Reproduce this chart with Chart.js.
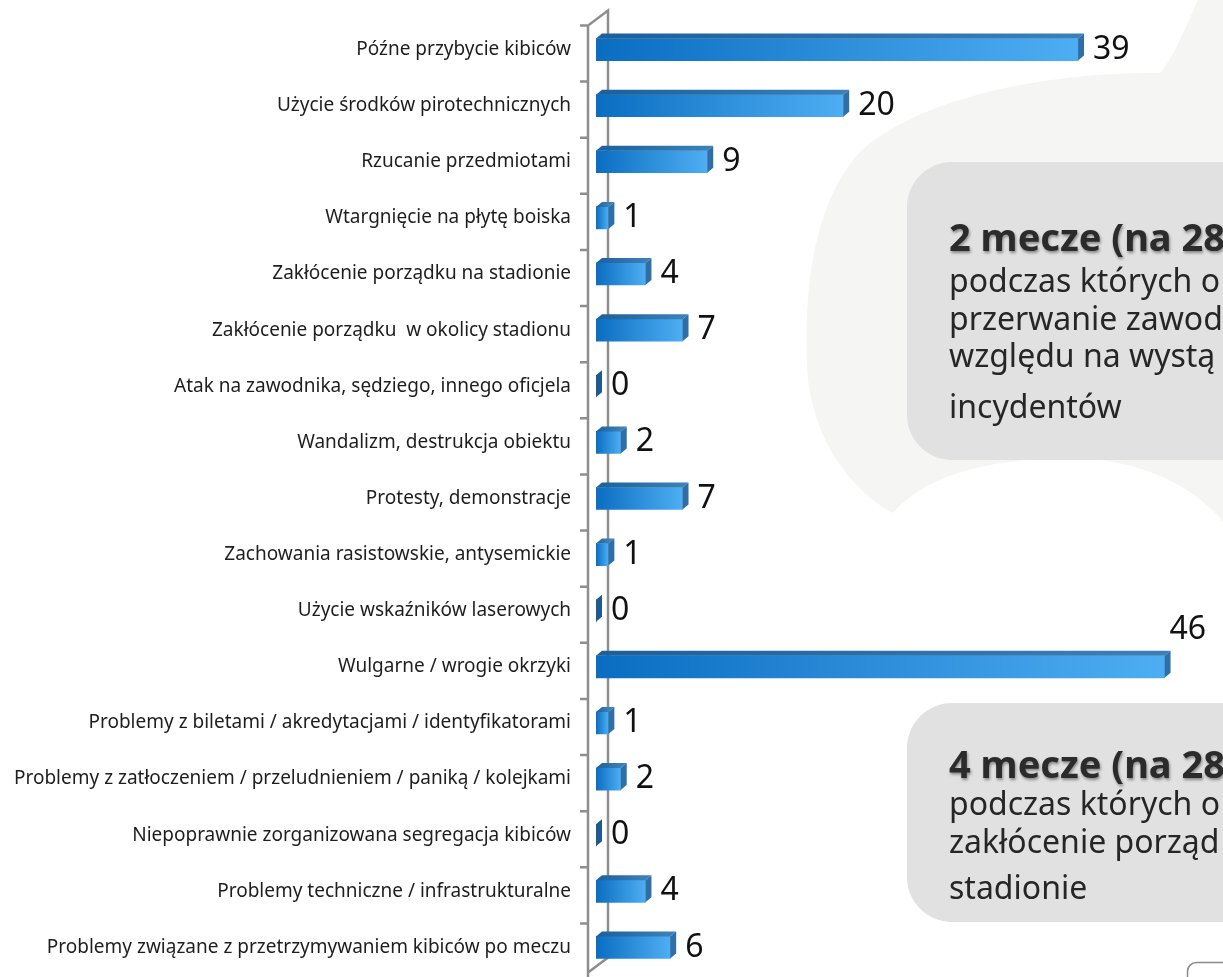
<!DOCTYPE html>
<html lang="pl">
<head>
<meta charset="utf-8">
<script src="https://cdn.jsdelivr.net/npm/chart.js@4.4.1/dist/chart.umd.min.js"></script>
<style>
    html, body { margin: 0; padding: 0; background: #ffffff; }
    body { width: 1223px; height: 977px; overflow: hidden; position: relative; }
    #back { position: absolute; left: 0; top: 0; }
    .wrap { position: absolute; left: 0; top: 0; width: 1223px; height: 977px; }
</style>
</head>
<body>
<canvas id="back" width="1223" height="977"></canvas>
<div class="wrap"><canvas id="chart"></canvas></div>
<script>
const categories = [
    'Późne przybycie kibiców',
    'Użycie środków pirotechnicznych',
    'Rzucanie przedmiotami',
    'Wtargnięcie na płytę boiska',
    'Zakłócenie porządku na stadionie',
    'Zakłócenie porządku  w okolicy stadionu',
    'Atak na zawodnika, sędziego, innego oficjela',
    'Wandalizm, destrukcja obiektu',
    'Protesty, demonstracje',
    'Zachowania rasistowskie, antysemickie',
    'Użycie wskaźników laserowych',
    'Wulgarne / wrogie okrzyki',
    'Problemy z biletami / akredytacjami / identyfikatorami',
    'Problemy z zatłoczeniem / przeludnieniem / paniką / kolejkami',
    'Niepoprawnie zorganizowana segregacja kibiców',
    'Problemy techniczne / infrastrukturalne',
    'Problemy związane z przetrzymywaniem kibiców po meczu'
];
const incidents = [39, 20, 9, 1, 4, 7, 0, 2, 7, 1, 0, 46, 1, 2, 0, 4, 6];

const note1 = ['2 mecze (na 28)', 'podczas których o', 'przerwanie zawod', 'względu na wystą', 'incydentów'];
const note2 = ['4 mecze (na 28)', 'podczas których o', 'zakłócenie porząd', 'stadionie'];

// background: grey blob, two note boxes, small corner frame
const bg = document.getElementById('back').getContext('2d');
bg.fillStyle = '#f5f5f4';
bg.beginPath();
bg.moveTo(1200, -5);
bg.bezierCurveTo(1185, 30, 1172, 60, 1160, 73);
bg.bezierCurveTo(1060, 72, 930, 92, 862, 150);
bg.bezierCurveTo(812, 200, 802, 300, 808, 380);
bg.bezierCurveTo(815, 440, 850, 490, 893, 513);
bg.bezierCurveTo(930, 470, 1000, 458, 1080, 458);
bg.bezierCurveTo(1150, 462, 1200, 490, 1230, 530);
bg.lineTo(1230, -5);
bg.closePath();
bg.fill();

function noteBox(y, h, lines, baselines) {
    bg.fillStyle = '#e1e1e1';
    bg.beginPath();
    bg.roundRect(907, y, 400, h, 45);
    bg.fill();
    lines.forEach((t, i) => {
        bg.save();
        if (i === 0) {
            bg.font = 'bold 38px "Noto Sans", "Open Sans", sans-serif';
            bg.fillStyle = '#2b2b2b';
            bg.shadowColor = 'rgba(0,0,0,0.4)';
            bg.shadowOffsetX = 1;
            bg.shadowOffsetY = 2;
            bg.shadowBlur = 3;
        } else {
            bg.font = '32px "Noto Sans", "Open Sans", sans-serif';
            bg.fillStyle = '#262626';
        }
        bg.fillText(t, 949, baselines[i]);
        bg.restore();
    });
}
noteBox(162, 298, note1, [251, 292, 330, 367, 418]);
noteBox(703, 219, note2, [778, 815, 853, 899]);

bg.strokeStyle = '#8a8a8a';
bg.lineWidth = 1.5;
bg.beginPath();
bg.roundRect(1187.5, 962.5, 60, 40, 9);
bg.stroke();

const DX = 6, DY = 5;

// 3d top and side faces + value labels
const bar3d = {
    id: 'bar3d',
    afterDatasetsDraw(chart) {
        const c = chart.ctx;
        const meta = chart.getDatasetMeta(0);
        c.save();
        meta.data.forEach((bar, i) => {
            const top = bar.y - bar.height / 2;
            const bot = bar.y + bar.height / 2;
            const x0 = bar.base, x1 = bar.x;
            if (x1 - x0 > 0.5) {
                const g = c.createLinearGradient(x0, 0, x1, 0);
                g.addColorStop(0, '#1b5f9c');
                g.addColorStop(1, '#3b80b8');
                c.fillStyle = g;
                c.beginPath();
                c.moveTo(x0, top);
                c.lineTo(x0 + DX, top - DY);
                c.lineTo(x1 + DX, top - DY);
                c.lineTo(x1, top);
                c.closePath();
                c.fill();
            }
            c.fillStyle = x1 - x0 > 0.5 ? '#2f6fa6' : '#1d5a92';
            c.beginPath();
            c.moveTo(x1, top);
            c.lineTo(x1 + DX, top - DY);
            c.lineTo(x1 + DX, bot - DY);
            c.lineTo(x1, bot);
            c.closePath();
            c.fill();

            const txt = String(incidents[i]);
            c.font = '32px "Noto Sans", "Open Sans", sans-serif';
            c.fillStyle = '#111111';
            c.textBaseline = 'middle';
            c.textAlign = 'left';
            let tx = x1 + 15, ty = bar.y;
            if (tx + c.measureText(txt).width > chart.chartArea.right) {
                tx = x1 + 5;
                ty = bar.y - 37;
            }
            c.fillText(txt, tx, ty);
        });
        c.restore();
    }
};

// grey 3d wall of the category axis
const axisWall = {
    id: 'axisWall',
    beforeDatasetsDraw(chart) {
        const c = chart.ctx;
        const ys = chart.scales.y, xs = chart.scales.x;
        const band = ys.getPixelForValue(1) - ys.getPixelForValue(0);
        const first = ys.getPixelForValue(0) - band / 2 + 4;
        const xf = xs.left - 8, xb = xs.left + 12;
        const bottom = first + band * categories.length;
        c.save();
        c.strokeStyle = '#8e8e8e';
        c.lineWidth = 2.5;
        c.beginPath();
        c.moveTo(xf, bottom + 10);
        c.lineTo(xf, first);
        c.lineTo(xb, first - 15);
        c.lineTo(xb, bottom - 22);
        c.lineTo(xf, bottom - 7);
        for (let k = 0; k < categories.length; k++) {
            const y = first + k * band;
            c.moveTo(xf - 8, y);
            c.lineTo(xf, y);
        }
        c.stroke();
        c.restore();
    }
};

new Chart(document.getElementById('chart'), {
    type: 'bar',
    data: {
        labels: categories,
        datasets: [{
            data: incidents,
            barThickness: 22,
            borderWidth: 0,
            backgroundColor: (ctx) => {
                const chart = ctx.chart;
                if (!chart.chartArea || !ctx.parsed) return '#2a88dd';
                const x0 = chart.scales.x.getPixelForValue(0);
                const x1 = chart.scales.x.getPixelForValue(ctx.parsed.x);
                if (x1 - x0 < 1) return '#1d5a92';
                const g = chart.ctx.createLinearGradient(x0, 0, x1, 0);
                g.addColorStop(0, '#0b6dc1');
                g.addColorStop(1, '#4eaef3');
                return g;
            }
        }]
    },
    options: {
        indexAxis: 'y',
        responsive: true,
        maintainAspectRatio: false,
        animation: false,
        scales: {
            x: {
                display: false,
                min: 0,
                max: 50
            },
            y: {
                grid: { display: false, drawTicks: false },
                border: { display: false },
                ticks: {
                    padding: 25,
                    color: '#1e1e1e',
                    font: { family: '"Liberation Sans Narrow", "Noto Sans", sans-serif', size: 19 }
                },
                afterFit: (scale) => {
                    scale.width = 596;
                    scale.paddingTop = 0;
                    scale.paddingBottom = 0;
                }
            }
        },
        plugins: {
            legend: { display: false },
            tooltip: { enabled: false }
        },
        layout: {
            padding: { left: 0, right: 9, top: 21.5, bottom: 1.5 }
        }
    },
    plugins: [axisWall, bar3d]
});
</script>
</body>
</html>
